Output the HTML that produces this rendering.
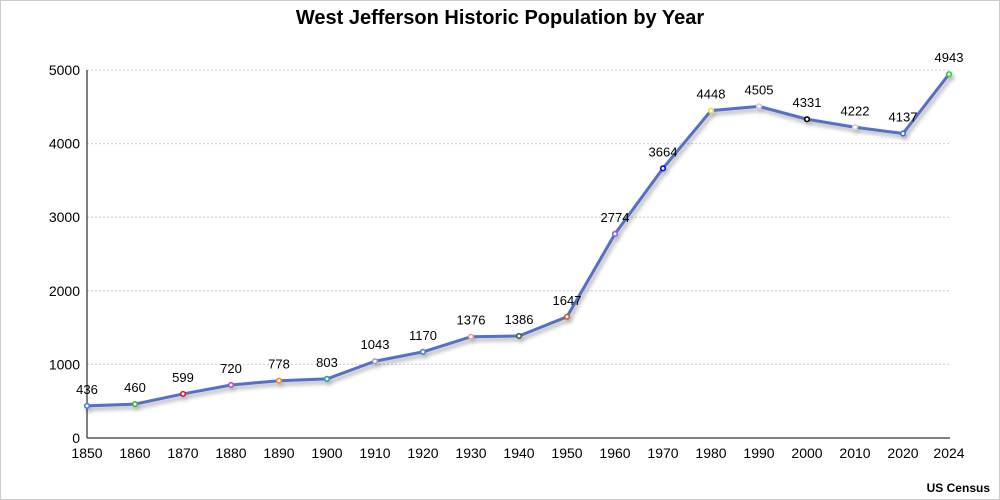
<!DOCTYPE html><html><head><meta charset="utf-8"><style>body{margin:0;background:#fff}svg{display:block;font-family:"Liberation Sans",sans-serif}</style></head><body>
<svg id="s" width="1000" height="500" xmlns="http://www.w3.org/2000/svg">
<defs><filter id="sh" x="-5%" y="-5%" width="110%" height="120%"><feGaussianBlur in="SourceAlpha" stdDeviation="2"/><feOffset dx="2" dy="3"/><feComponentTransfer><feFuncA type="linear" slope="0.35"/></feComponentTransfer><feMerge><feMergeNode/><feMergeNode in="SourceGraphic"/></feMerge></filter></defs>
<rect x="0.5" y="0.5" width="999" height="499" fill="#fff" stroke="#ccc"/>
<text x="500" y="24" text-anchor="middle" font-size="20" font-weight="bold" fill="#000">West Jefferson Historic Population by Year</text>
<text x="990" y="492" text-anchor="end" font-size="12" font-weight="bold" fill="#000">US Census</text>
<g id="g"></g>
</svg>
<script>
var yrs=[1850,1860,1870,1880,1890,1900,1910,1920,1930,1940,1950,1960,1970,1980,1990,2000,2010,2020,2024];
var v=[436,460,599,720,778,803,1043,1170,1376,1386,1647,2774,3664,4448,4505,4331,4222,4137,4943];
var c=["#4a7be0","#3cb43c","#dc143c","#b44cc8","#f08c1c","#20a0a0","#a0a0b0","#4682b4","#e0a0a0","#2e6b3c","#c06020","#7b68ee","#0000ff","#e8e040","#c8c8e0","#000000","#d0d0d0","#4169e1","#32cd32"];
var X=function(i){return i<18?87+i*48:949}, Y=function(x){return 438-x*0.0736};
var h='';
for(var k=1;k<=5;k++){var y=Y(k*1000);h+='<line x1="87" x2="950" y1="'+y+'" y2="'+y+'" stroke="#ccc" stroke-dasharray="2,2"/>';}
for(var k=0;k<=5;k++)h+='<text x="80" y="'+(Y(k*1000)+5)+'" text-anchor="end" font-size="14">'+k*1000+'</text>';
h+='<line x1="87" y1="70" x2="87" y2="438" stroke="#000"/><line x1="87" y1="438" x2="950" y2="438" stroke="#000"/>';
var p='';for(var i=0;i<19;i++){p+=(i?'L':'M')+X(i)+' '+Y(v[i]);h+='<text x="'+X(i)+'" y="458" text-anchor="middle" font-size="14">'+yrs[i]+'</text>';}
h+='<g filter="url(#sh)"><path d="'+p+'" fill="none" stroke="#5470c6" stroke-width="3"/>';
for(var i=0;i<19;i++)h+='<circle cx="'+X(i)+'" cy="'+Y(v[i])+'" r="2.3" fill="#fff" stroke="'+c[i]+'" stroke-width="1.6"/>';
h+='</g>';
for(var i=0;i<19;i++)h+='<text x="'+X(i)+'" y="'+(Y(v[i])-12)+'" text-anchor="middle" font-size="13">'+v[i]+'</text>';
document.getElementById('g').innerHTML=h;
</script>
</body></html>
